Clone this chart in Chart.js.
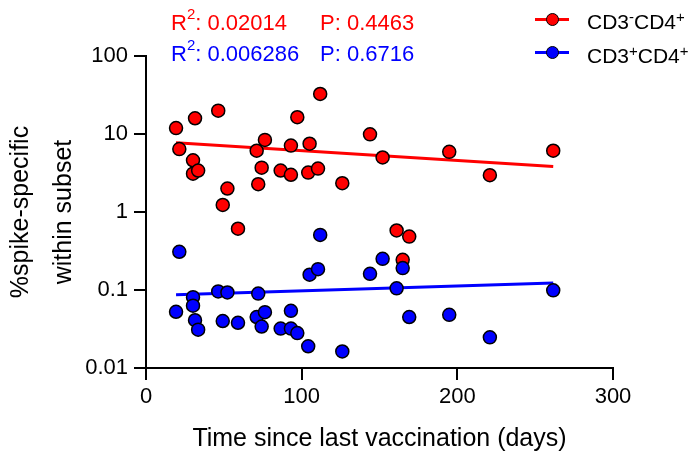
<!DOCTYPE html>
<html lang="en">
<head>
    <meta charset="UTF-8">
    <title>Spike-specific cells vs time since vaccination</title>
    <style>
        body {
            margin: 0;
            background: #fff;
            font-family: "Liberation Sans", Arial, sans-serif;
        }

        #wrap {
            position: relative;
            width: 695px;
            height: 454px;
        }

        .note {
            position: absolute;
            font-size: 22px;
            line-height: 22px;
            white-space: nowrap;
        }

        .note sup, .leg sup {
            font-size: 15px;
            position: relative;
            vertical-align: baseline;
            top: -11px;
        }

        .leg {
            position: absolute;
            left: 587px;
            font-size: 21px;
            line-height: 21px;
            color: #000;
            white-space: nowrap;
        }

        .leg sup {
            top: -7px;
        }

        .seg {
            position: absolute;
            left: 535px;
            width: 34px;
            height: 3px;
        }

        .dot {
            position: absolute;
            left: 545.5px;
            width: 13px;
            height: 13px;
            box-sizing: border-box;
            border: 1.5px solid #000;
            border-radius: 50%;
        }
    </style>
    <script src="https://cdn.jsdelivr.net/npm/chart.js"></script>
</head>
<body>
    <div id="wrap">
        <canvas id="chart" width="695" height="454"></canvas>

        <div class="note" style="left:171px; top:12px; color:#ff0000;">R<sup>2</sup>: 0.02014</div>
        <div class="note" style="left:320px; top:12px; color:#ff0000;">P: 0.4463</div>
        <div class="note" style="left:171px; top:43px; color:#0000ff;">R<sup>2</sup>: 0.006286</div>
        <div class="note" style="left:320px; top:43px; color:#0000ff;">P: 0.6716</div>

        <div class="seg" style="top:17.5px; background:#ff0000;"></div>
        <div class="dot" style="top:12.5px; background:#ff0000;"></div>
        <div class="leg" style="top:10.5px;">CD3<sup>-</sup>CD4<sup>+</sup></div>

        <div class="seg" style="top:51px; background:#0000ff;"></div>
        <div class="dot" style="top:46px; background:#0000ff;"></div>
        <div class="leg" style="top:44.5px;">CD3<sup>+</sup>CD4<sup>+</sup></div>
    </div>

    <script>
        // data
        const days = [19.3, 21.4, 30.2, 30.2, 31.5, 33.5, 46.4, 49.3, 52.3, 59.1,
                      71.1, 72.1, 74.3, 76.4, 86.5, 93.1, 93.1, 97.2, 104.2, 105.1,
                      110.5, 111.9, 126.1, 143.9, 152.0, 161.0, 164.9, 169.1, 194.8, 220.9, 261.6];
        const cd3negCd4 = [11.9, 6.4, 4.6, 3.1, 15.9, 3.4, 19.9, 1.23, 2.0, 0.61,
                           6.1, 2.27, 3.7, 8.4, 3.4, 3.0, 7.1, 16.4, 3.2, 7.5,
                           3.6, 32.6, 2.34, 9.9, 5.0, 0.58, 0.244, 0.484, 5.9, 2.96, 6.1];
        const cd3posCd4 = [0.0526, 0.309, 0.081, 0.063, 0.041, 0.031, 0.096, 0.040, 0.093, 0.038,
                           0.045, 0.090, 0.034, 0.052, 0.032, 0.054, 0.032, 0.028, 0.019, 0.157,
                           0.185, 0.509, 0.0163, 0.161, 0.251, 0.105, 0.191, 0.045, 0.048, 0.0247, 0.099];

        // fitted lines, end points
        const fitDays = [19.3, 261.6];
        const fitNeg = [7.75, 3.82];
        const fitPos = [0.087, 0.123];

        const yTicks = [0.01, 0.1, 1, 10, 100];
        const yTickLabels = ['0.01', '0.1', '1', '10', '100'];
        const xTicks = [0, 100, 200, 300];

        const toPts = (xs, ys) => xs.map((x, i) => ({ x: x, y: ys[i] }));

        Chart.defaults.font.family = '"Liberation Sans", Arial, sans-serif';
        Chart.defaults.color = '#000';

        const ctx = document.getElementById('chart').getContext('2d');
        new Chart(ctx, {
            type: 'scatter',
            data: {
                datasets: [
                    {
                        label: 'CD3+CD4+',
                        data: toPts(days, cd3posCd4),
                        backgroundColor: '#0000ff',
                        borderColor: '#000',
                        borderWidth: 1.5,
                        pointRadius: 6.5,
                        order: 0
                    },
                    {
                        label: 'CD3-CD4+',
                        data: toPts(days, cd3negCd4),
                        backgroundColor: '#ff0000',
                        borderColor: '#000',
                        borderWidth: 1.5,
                        pointRadius: 6.5,
                        order: 1
                    },
                    {
                        type: 'line',
                        label: 'fit CD3+CD4+',
                        data: toPts(fitDays, fitPos),
                        borderColor: '#0000ff',
                        borderWidth: 3,
                        pointRadius: 0,
                        fill: false,
                        order: 2
                    },
                    {
                        type: 'line',
                        label: 'fit CD3-CD4+',
                        data: toPts(fitDays, fitNeg),
                        borderColor: '#ff0000',
                        borderWidth: 3,
                        pointRadius: 0,
                        fill: false,
                        order: 3
                    }
                ]
            },
            options: {
                responsive: false,
                animation: false,
                clip: false,
                layout: { padding: { top: 56, right: 82, left: 0, bottom: 0 } },
                plugins: {
                    legend: { display: false },
                    tooltip: { enabled: false }
                },
                scales: {
                    x: {
                        type: 'linear',
                        min: 0,
                        max: 300,
                        afterBuildTicks: s => { s.ticks = xTicks.map(v => ({ value: v })); },
                        afterFit: s => { s.height = 86; },
                        ticks: { font: { size: 22 }, color: '#000', padding: 4, maxRotation: 0 },
                        grid: { drawOnChartArea: false, color: '#000', lineWidth: 2, tickLength: 12 },
                        border: { color: '#000', width: 2 },
                        title: {
                            display: true,
                            text: 'Time since last vaccination (days)',
                            font: { size: 25 },
                            color: '#000',
                            padding: 0
                        }
                    },
                    y: {
                        type: 'logarithmic',
                        min: 0.01,
                        max: 100,
                        afterBuildTicks: s => { s.ticks = yTicks.map(v => ({ value: v })); },
                        afterFit: s => { s.width = 146; },
                        ticks: {
                            font: { size: 22 },
                            color: '#000',
                            padding: 6,
                            callback: v => yTickLabels[yTicks.indexOf(v)]
                        },
                        grid: { drawOnChartArea: false, color: '#000', lineWidth: 2, tickLength: 12 },
                        border: { color: '#000', width: 2 },
                        title: {
                            display: true,
                            text: ['%spike-specific', 'within subset'],
                            font: { size: 25, lineHeight: 1.7 },
                            color: '#000',
                            padding: 0
                        }
                    }
                }
            }
        });
    </script>
</body>
</html>
